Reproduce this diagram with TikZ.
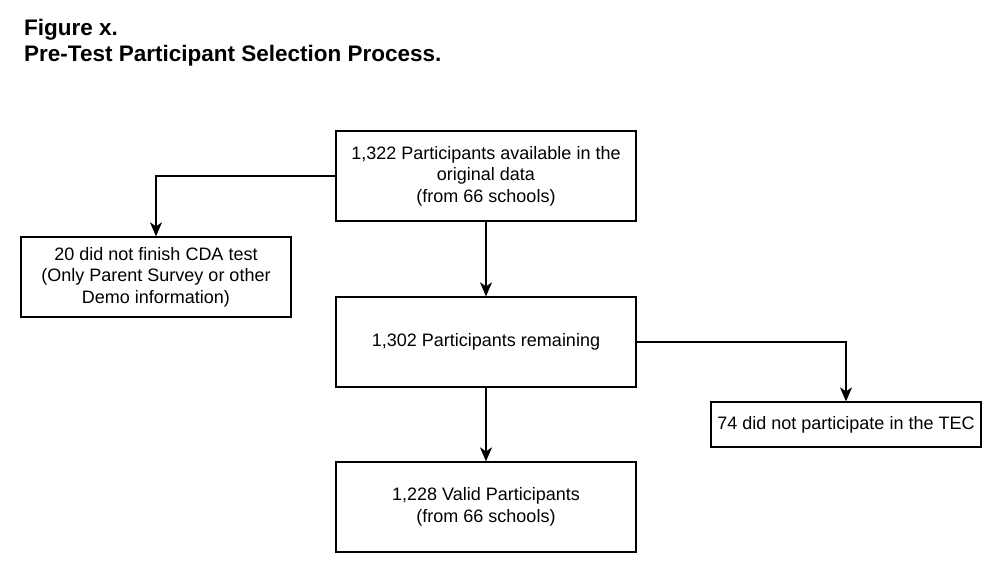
\documentclass[tikz,border=0pt]{standalone}
\usepackage{fontspec}
\setmainfont{Liberation Sans}
\usetikzlibrary{arrows.meta}
\begin{document}
\begin{tikzpicture}[x=1pt,y=-1pt,
  box/.style={draw=black,line width=1.3pt,minimum width=300pt,minimum height=90pt,align=center,inner sep=0pt,font=\fontsize{18}{21.5}\selectfont},
  sbox/.style={draw=black,line width=1.3pt,minimum width=270pt,align=center,inner sep=0pt,font=\fontsize{18}{21.5}\selectfont},
  conn/.style={line width=1.3pt,-{Stealth[length=14pt,width=12pt,inset=4pt]}},
  ttl/.style={anchor=base west,inner sep=0pt,font=\fontsize{22.5}{26}\selectfont\bfseries}]
\useasboundingbox (0,0) rectangle (1002,570);
\node[ttl] (t1) at (24,35) {Figure x.};
\node[ttl] (t2) at (24,61) {Pre-Test Participant Selection Process.};
\node[box] (top) at (486,176) {1,322 Participants available in the\\original data\\(from 66 schools)};
\node[sbox,minimum height=80pt] (left) at (156,277) {20 did not finish CDA test\\(Only Parent Survey or other\\Demo information)};
\node[box] (mid) at (486,342) {1,302 Participants remaining};
\node[sbox,minimum height=45pt] (right) at (846,424.5) {74 did not participate in the TEC};
\node[box] (bot) at (486,507) {1,228 Valid Participants\\(from 66 schools)};
\draw[conn] (top.west) -| (left.north);
\draw[conn] (top.south) -- (mid.north);
\draw[conn] (mid.east) -| (right.north);
\draw[conn] (mid.south) -- (bot.north);
\end{tikzpicture}
\end{document}
